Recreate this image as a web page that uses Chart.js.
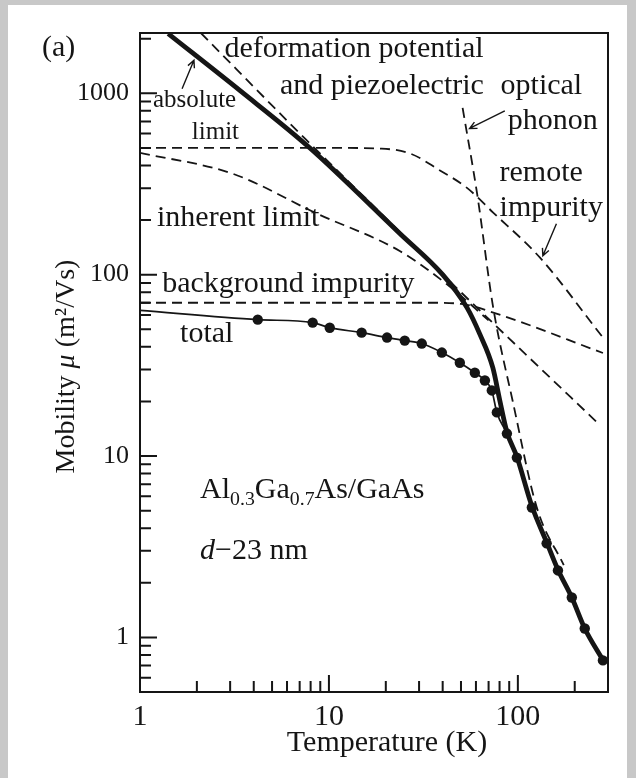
<!DOCTYPE html>
<html>
<head>
<meta charset="utf-8">
<script src="https://cdn.jsdelivr.net/npm/chart.js@4.4.0/dist/chart.umd.min.js"></script>
<style>
  html, body { margin: 0; padding: 0; background: #c8c8c8; }
  #sheet { position: absolute; left: 8px; top: 5px; width: 619px; height: 773px; background: #fff; }
  #wrap { position: absolute; left: 0; top: 0; width: 636px; height: 778px; }
</style>
</head>
<body>
<div id="sheet"></div>
<div id="wrap"><canvas id="mobility" width="636" height="778"></canvas></div>
<script>
// Temperature (K) / mobility (m^2/Vs) pairs for each curve
const absoluteT  = [1.41, 3.4, 7.9, 23.8, 40, 53.7, 62.9, 73.7, 80.3, 87.5, 98.8, 118.6, 142, 163, 193, 226, 282];
const absoluteMu = [2130, 1030, 501, 168, 100, 66, 47, 30.7, 20.2, 13.6, 9.9, 5.3, 3.35, 2.36, 1.66, 1.12, 0.75];

const totalT  = [1, 4.2, 8.2, 10.1, 14.9, 20.3, 25.2, 31, 39.6, 49.3, 59.2, 66.9, 72.8, 77.4, 87.5, 98.8, 118.6, 142, 163, 193, 226, 282];
const totalMu = [63.5, 56.5, 54.4, 51, 47.9, 45, 43.3, 41.7, 37.2, 32.7, 28.8, 26.1, 23, 17.4, 13.3, 9.8, 5.2, 3.3, 2.34, 1.66, 1.12, 0.747];

const measuredT  = [4.2, 8.2, 10.1, 14.9, 20.3, 25.2, 31, 39.6, 49.3, 59.2, 66.9, 72.8, 77.4, 87.5, 98.8, 118.6, 142, 163, 193, 226, 282];
const measuredMu = [56.5, 54.4, 51, 47.9, 45, 43.3, 41.7, 37.2, 32.7, 28.8, 26.1, 23, 17.4, 13.3, 9.8, 5.2, 3.3, 2.34, 1.66, 1.12, 0.747];

const deformT  = [2.1, 7.5, 20, 50, 100, 265];
const deformMu = [2150, 560, 205, 80, 40, 15.2];

const opticalT  = [51, 61, 74, 94, 126, 175];
const opticalMu = [830, 275, 66, 20, 5.2, 2.5];

const remoteT  = [1, 10, 19, 27, 38, 54, 74, 131, 282];
const remoteMu = [500, 500, 495, 465, 380, 300, 220, 124, 45];

const inherentT  = [1, 3.1, 8.65, 23.7, 43.6, 70];
const inherentMu = [470, 360, 217, 135, 86, 56];

const backgroundT  = [1, 35, 50, 77, 282];
const backgroundMu = [70, 70, 69, 61, 37];

// axis ranges and labelled decades
const tempRange = [1, 300];
const mobilityRange = [0.5, 2150];
const decadeLabels = ['1', '10', '100', '1000'];

const ink = '#151515';
const serif = "'Liberation Serif', 'Times New Roman', serif";
Chart.defaults.font.family = serif;
Chart.defaults.color = ink;

const toPoints = (ts, mus) => ts.map((t, i) => ({ x: t, y: mus[i] }));
const dashed = { borderDash: [10, 6], borderWidth: 1.8 };

// text placed in data coordinates (temperature, mobility)
const notes = [
  { at: [0.303, 1780], runs: [{ text: '(a)' }] },
  { at: [2.8, 1760], runs: [{ text: 'deformation potential' }] },
  { at: [5.5, 1100], runs: [{ text: 'and piezoelectric' }] },
  { at: [81, 1100], runs: [{ text: 'optical' }] },
  { at: [88.5, 705], runs: [{ text: 'phonon' }] },
  { at: [1.17, 910], runs: [{ text: 'absolute' }], size: 25 },
  { at: [1.88, 605], runs: [{ text: 'limit' }], size: 25 },
  { at: [80, 365], runs: [{ text: 'remote' }] },
  { at: [80, 234], runs: [{ text: 'impurity' }] },
  { at: [1.23, 204], runs: [{ text: 'inherent limit' }] },
  { at: [1.31, 89], runs: [{ text: 'background impurity' }] },
  { at: [1.63, 47.3], runs: [{ text: 'total' }] },
  { at: [2.08, 6.45], runs: [
      { text: 'Al' }, { text: '0.3', sub: true }, { text: 'Ga' }, { text: '0.7', sub: true }, { text: 'As/GaAs' }] },
  { at: [2.08, 3.0], runs: [{ text: 'd', italic: true }, { text: '\u221223 nm' }] }
];

const xTitle = [{ text: 'Temperature (K)' }];
const yTitle = [{ text: 'Mobility ' }, { text: '\u03bc', italic: true }, { text: ' (m\u00b2/Vs)' }];

// pointer arrows: [from, to]
const pointers = [
  [[1.67, 1060], [1.93, 1520]],
  [[85.3, 800], [55.5, 640]],
  [[160, 191], [135.6, 127]]
];

function runFont(r, size) {
  return (r.italic ? 'italic ' : '') + (r.sub ? size * 0.66 : size) + 'px ' + serif;
}

function runsWidth(ctx, runs, size) {
  return runs.reduce((w, r) => { ctx.font = runFont(r, size); return w + ctx.measureText(r.text).width; }, 0);
}

function drawRuns(ctx, runs, x, y, size) {
  let cx = x;
  for (const r of runs) {
    ctx.font = runFont(r, size);
    ctx.fillText(r.text, cx, r.sub ? y + size * 0.3 : y);
    cx += ctx.measureText(r.text).width;
  }
}

function arrow(ctx, x0, y0, x1, y1) {
  const a = Math.atan2(y1 - y0, x1 - x0), h = 8;
  ctx.beginPath();
  ctx.moveTo(x0, y0);
  ctx.lineTo(x1, y1);
  ctx.moveTo(x1 - h * Math.cos(a - 0.45), y1 - h * Math.sin(a - 0.45));
  ctx.lineTo(x1, y1);
  ctx.lineTo(x1 - h * Math.cos(a + 0.45), y1 - h * Math.sin(a + 0.45));
  ctx.stroke();
}

function logSteps(min, max) {
  const out = [];
  for (let e = Math.floor(Math.log10(min)); e <= Math.ceil(Math.log10(max)); e++) {
    for (let m = 1; m <= 9; m++) {
      const v = m * Math.pow(10, e);
      if (v > min * 1.0001 && v < max * 0.9999) out.push({ v, major: m === 1 });
    }
  }
  return out;
}

// frame, inward tick marks, axis titles, labels and arrows
const paperFrame = {
  id: 'paperFrame',
  afterDraw(chart) {
    const { ctx, chartArea: a, scales: { x, y } } = chart;
    ctx.save();
    ctx.strokeStyle = ink;
    ctx.fillStyle = ink;
    ctx.lineWidth = 2;
    ctx.strokeRect(a.left, a.top, a.right - a.left, a.bottom - a.top);

    ctx.beginPath();
    for (const t of logSteps(x.min, x.max)) {
      const px = x.getPixelForValue(t.v);
      ctx.moveTo(px, a.bottom);
      ctx.lineTo(px, a.bottom - (t.major ? 17 : 11));
    }
    for (const t of logSteps(y.min, y.max)) {
      const py = y.getPixelForValue(t.v);
      ctx.moveTo(a.left, py);
      ctx.lineTo(a.left + (t.major ? 17 : 11), py);
    }
    ctx.stroke();

    ctx.textBaseline = 'middle';
    ctx.textAlign = 'left';
    for (const n of notes) {
      drawRuns(ctx, n.runs, x.getPixelForValue(n.at[0]), y.getPixelForValue(n.at[1]), n.size || 30);
    }

    // axis titles
    const cx = (a.left + a.right) / 2 + 13;
    drawRuns(ctx, xTitle, cx - runsWidth(ctx, xTitle, 30) / 2, a.bottom + 51, 30);
    ctx.save();
    ctx.translate(67, (a.top + a.bottom) / 2 + 4);
    ctx.rotate(-Math.PI / 2);
    drawRuns(ctx, yTitle, -runsWidth(ctx, yTitle, 28) / 2, 0, 28);
    ctx.restore();

    ctx.lineWidth = 1.4;
    for (const [p, q] of pointers) {
      arrow(ctx, x.getPixelForValue(p[0]), y.getPixelForValue(p[1]),
                 x.getPixelForValue(q[0]), y.getPixelForValue(q[1]));
    }
    ctx.restore();
  }
};

const decadeTick = (v) => {
  const l = Math.log10(v);
  return Math.abs(l - Math.round(l)) < 1e-9 ? decadeLabels[Math.round(l)] : '';
};

new Chart(document.getElementById('mobility'), {
  type: 'line',
  data: {
    datasets: [
      { label: 'measured', data: toPoints(measuredT, measuredMu), showLine: false,
        pointRadius: 5.2, pointBackgroundColor: ink, pointBorderWidth: 0 },
      { label: 'absolute limit', data: toPoints(absoluteT, absoluteMu), borderColor: ink,
        borderWidth: 4.8, pointRadius: 0, cubicInterpolationMode: 'monotone', borderJoinStyle: 'round' },
      { label: 'total', data: toPoints(totalT, totalMu), borderColor: ink,
        borderWidth: 1.7, pointRadius: 0, cubicInterpolationMode: 'monotone' },
      { label: 'deformation potential and piezoelectric', data: toPoints(deformT, deformMu), borderColor: ink,
        pointRadius: 0, cubicInterpolationMode: 'monotone', ...dashed },
      { label: 'optical phonon', data: toPoints(opticalT, opticalMu), borderColor: ink,
        pointRadius: 0, cubicInterpolationMode: 'monotone', ...dashed },
      { label: 'remote impurity', data: toPoints(remoteT, remoteMu), borderColor: ink,
        pointRadius: 0, cubicInterpolationMode: 'monotone', ...dashed },
      { label: 'inherent limit', data: toPoints(inherentT, inherentMu), borderColor: ink,
        pointRadius: 0, cubicInterpolationMode: 'monotone', ...dashed },
      { label: 'background impurity', data: toPoints(backgroundT, backgroundMu), borderColor: ink,
        pointRadius: 0, cubicInterpolationMode: 'monotone', ...dashed }
    ]
  },
  options: {
    responsive: false,
    animation: false,
    layout: { padding: { top: 33, right: 28, left: 0, bottom: 0 } },
    plugins: { legend: { display: false }, tooltip: { enabled: false } },
    scales: {
      x: {
        type: 'logarithmic',
        min: tempRange[0],
        max: tempRange[1],
        grid: { display: false, drawTicks: false },
        border: { display: false },
        ticks: { autoSkip: false, maxRotation: 0, padding: 7, font: { size: 30 }, callback: decadeTick },
        afterFit: (s) => { s.height = 86; }
      },
      y: {
        type: 'logarithmic',
        min: mobilityRange[0],
        max: mobilityRange[1],
        grid: { display: false, drawTicks: false },
        border: { display: false },
        ticks: { autoSkip: false, padding: 11, font: { size: 26 }, callback: decadeTick },
        afterFit: (s) => { s.width = 140; }
      }
    }
  },
  plugins: [paperFrame]
});
</script>
</body>
</html>
